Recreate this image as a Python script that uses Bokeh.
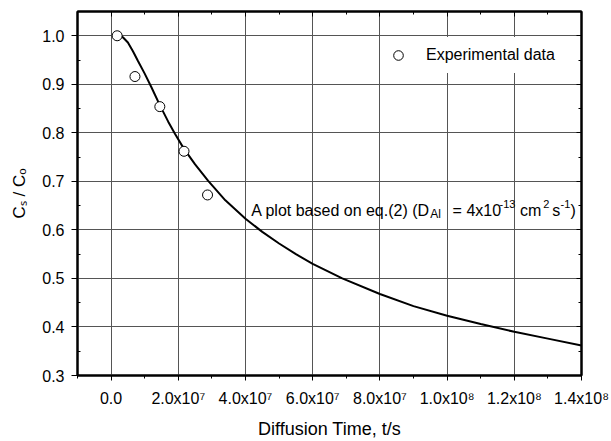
from bokeh.plotting import figure
from bokeh.models import (LinearAxis, FixedTicker, NumeralTickFormatter, Range1d,
                          Label, Legend, LegendItem, CustomLabelingPolicy)
from bokeh.embed import file_html
from bokeh.resources import INLINE

# ---- data ----
exp_t = [0.18e7, 0.71e7, 1.45e7, 2.17e7, 2.87e7]
exp_c = [1.000, 0.916, 0.854, 0.762, 0.672]

fit_t = [0.20e7, 0.35e7, 0.50e7, 0.65e7, 0.80e7, 1.00e7, 1.20e7, 1.45e7, 1.70e7,
         1.90e7, 2.16e7, 2.50e7, 2.89e7, 3.40e7, 4.00e7, 4.50e7, 5.00e7, 5.50e7,
         6.00e7, 6.88e7, 8.00e7, 9.00e7, 10.0e7, 11.0e7, 12.0e7, 13.0e7, 14.0e7]
fit_c = [1.000, 0.997, 0.986, 0.968, 0.948, 0.922, 0.894, 0.857, 0.823,
         0.798, 0.768, 0.735, 0.701, 0.661, 0.623, 0.596, 0.572, 0.550,
         0.530, 0.500, 0.468, 0.443, 0.423, 0.406, 0.390, 0.376, 0.362]

x_major = [0.0, 2e7, 4e7, 6e7, 8e7, 1e8, 1.2e8, 1.4e8]
x_labels = ["0.0", "2.0x10\u2077", "4.0x10\u2077", "6.0x10\u2077", "8.0x10\u2077",
            "1.0x10\u2078", "1.2x10\u2078", "1.4x10\u2078"]
x_minor = [-1e7, 1e7, 3e7, 5e7, 7e7, 9e7, 1.1e8, 1.3e8]
y_major = [0.3, 0.4, 0.5, 0.6, 0.7, 0.8, 0.9, 1.0]
y_minor = [0.35, 0.45, 0.55, 0.65, 0.75, 0.85, 0.95]

legend_label = "Experimental data"
x_title = "Diffusion Time, t/s"
y_title = "C\u209b / C\u2092"

FONT = "Liberation Sans"

p = figure(width=611, height=441, output_backend="svg", toolbar_location=None,
           x_range=Range1d(-1e7, 1.4e8), y_range=Range1d(0.3, 1.05),
           min_border_left=77, min_border_right=30, min_border_top=11,
           min_border_bottom=60)
p.background_fill_color = "white"
p.border_fill_color = "white"
p.outline_line_color = "black"
p.outline_line_width = 2

xt = FixedTicker(ticks=x_major, minor_ticks=x_minor)
yt = FixedTicker(ticks=y_major, minor_ticks=y_minor)

xa = p.xaxis[0]
xa.ticker = xt
xa.major_label_overrides = {v: s for v, s in zip(x_major, x_labels)}
xa.axis_label = x_title
xa.axis_label_text_font = FONT
xa.axis_label_text_font_size = "18px"
xa.axis_label_text_font_style = "normal"
xa.axis_label_text_color = "black"
xa.axis_label_standoff = 9
xa.major_label_text_font = FONT
xa.major_label_text_font_size = "16px"
xa.major_label_text_color = "black"
xa.major_label_standoff = 9
xa.major_tick_out = 5
xa.major_tick_in = 0
xa.minor_tick_out = 3
xa.minor_tick_in = 0
xa.axis_line_width = 2
xa.major_tick_line_color = "black"
xa.minor_tick_line_color = "black"

ya = p.yaxis[0]
ya.ticker = yt
ya.formatter = NumeralTickFormatter(format="0.0")
ya.axis_label = y_title
ya.axis_label_text_font = FONT
ya.axis_label_text_font_size = "17px"
ya.axis_label_text_font_style = "normal"
ya.axis_label_text_color = "black"
ya.axis_label_standoff = 10
ya.major_label_text_font = FONT
ya.major_label_text_font_size = "16px"
ya.major_label_text_color = "black"
ya.major_label_standoff = 7
ya.major_tick_out = 6
ya.major_tick_in = 0
ya.minor_tick_out = 0
ya.minor_tick_in = 3
ya.axis_line_width = 2
ya.major_tick_line_color = "black"
ya.minor_tick_line_color = "black"

no_labels = CustomLabelingPolicy(code="""
try { indices.clear(); return indices; } catch (e) {}
return new indices.constructor(indices.size, 0);
""")

for side in ("above", "right"):
    ax = LinearAxis(ticker=xt if side == "above" else yt,
                    major_label_policy=no_labels, major_label_standoff=0,
                    major_label_text_font_size="1px",
                    major_tick_in=5, major_tick_out=0,
                    minor_tick_in=3, minor_tick_out=0, axis_line_width=2)
    p.add_layout(ax, side)

for g in (p.xgrid[0], p.ygrid[0]):
    g.grid_line_color = "#555555"
    g.grid_line_width = 1
p.xgrid[0].ticker = xt
p.ygrid[0].ticker = yt

p.line(fit_t, fit_c, line_color="black", line_width=2)
pts = p.scatter(exp_t, exp_c, marker="circle", size=10, fill_color="white",
                line_color="black", line_width=1)

legend = Legend(items=[LegendItem(label=legend_label, renderers=[pts])],
                location=(303, 302), padding=6, margin=0, glyph_width=24,
                glyph_height=24, label_standoff=16, label_text_font=FONT,
                label_text_font_size="16px", label_text_color="black",
                border_line_alpha=0,
                background_fill_color="white", background_fill_alpha=1)
p.add_layout(legend)

# annotation: A plot based on eq.(2) (D_Al = 4x10^-13 cm^2 s^-1)
ax0 = 4.17e7
ay0 = 0.640
pieces = [
    ("A plot based on eq.(2) (D", 0, 0, "16px"),
    ("Al", 179.0, -4, "12px"),
    ("= 4x10", 201.4, 0, "16px"),
    ("-13", 248.3, 6.5, "11px"),
    ("cm", 268.9, 0, "16px"),
    ("2", 292.0, 6.5, "11px"),
    ("s", 301.0, 0, "16px"),
    ("-1", 309.3, 6.5, "11px"),
    (")", 319.3, 0, "16px"),
]
for txt, dx, dy, fs in pieces:
    p.add_layout(Label(x=ax0, y=ay0, x_offset=dx, y_offset=dy, text=txt,
                       text_font=FONT, text_font_size=fs, text_align="left",
                       text_baseline="alphabetic", text_color="black"))

open("out.html", "w").write(file_html(p, INLINE))
